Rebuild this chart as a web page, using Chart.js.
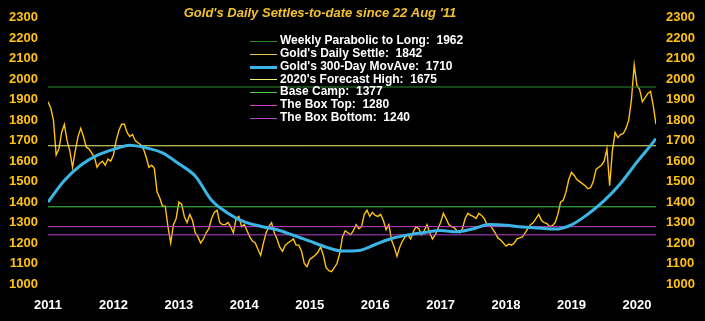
<!DOCTYPE html>
<html>
<head>
<meta charset="utf-8">
<script src="https://cdn.jsdelivr.net/npm/chart.js@4.4.0/dist/chart.umd.min.js"></script>
<style>
  html, body { margin: 0; padding: 0; background: #000; }
</style>
</head>
<body>
<canvas id="goldChart" width="705" height="321"></canvas>
<script>
// x values are years counted from the first settle (22 Aug 2011)
const startYear = 2011;
const yearTicks = [0, 1, 2, 3, 4, 5, 6, 7, 8, 9];
const priceTicks = [1000, 1100, 1200, 1300, 1400, 1500, 1600, 1700, 1800, 1900, 2000, 2100, 2200, 2300];

// settles, one value every half month
const settleStep = 1 / 24;
const goldSettles = [
  1890, 1860, 1800, 1630, 1660, 1740, 1780, 1700, 1650, 1570, 1650, 1720,
  1760, 1720, 1670, 1660, 1640, 1620, 1570, 1590, 1600, 1580, 1610, 1600,
  1630, 1700, 1750, 1780, 1780, 1740, 1720, 1730, 1700, 1690, 1680, 1660,
  1620, 1570, 1580, 1565, 1450, 1420, 1380, 1380, 1280, 1200, 1290, 1320,
  1400, 1390, 1330, 1300, 1340, 1310, 1250, 1230, 1200, 1220, 1250, 1270,
  1320, 1350, 1360, 1300, 1290, 1290, 1300, 1280, 1250, 1320, 1330, 1280,
  1290, 1260, 1230, 1210, 1200, 1170, 1140, 1200, 1250, 1280, 1300, 1250,
  1220, 1180, 1160, 1190, 1200, 1210, 1220, 1190, 1190, 1160, 1100, 1085,
  1120, 1130, 1140, 1155, 1180, 1140, 1080, 1065, 1060, 1080, 1100, 1150,
  1230, 1260, 1250, 1240, 1260, 1290, 1270, 1280, 1340, 1360, 1330, 1350,
  1335, 1330, 1340, 1310, 1265, 1290, 1215, 1180, 1135, 1180, 1210, 1230,
  1240, 1220, 1255, 1280, 1270, 1240, 1260, 1290, 1250, 1220, 1240, 1270,
  1300, 1345, 1320, 1290, 1280, 1275, 1260, 1250, 1270, 1320, 1345, 1335,
  1330, 1320, 1345, 1335, 1320, 1290, 1290, 1270, 1250, 1225, 1215, 1200,
  1185, 1195, 1190, 1200, 1220, 1225, 1230, 1250, 1270, 1290, 1300, 1320,
  1340, 1310, 1300, 1295, 1280, 1285, 1300, 1340, 1400, 1410, 1450, 1510,
  1545, 1530, 1510, 1500, 1490, 1480, 1465, 1470, 1500, 1560, 1570, 1580,
  1600, 1660, 1480, 1650, 1740, 1715, 1730, 1735, 1760, 1800, 1900, 2070,
  1970, 1950, 1890, 1910, 1930, 1940, 1870, 1780
];

// 300-day moving average
const maTimes = [0, 0.25, 0.5, 0.75, 1, 1.25, 1.5, 1.75, 2, 2.25, 2.5, 2.75, 3, 3.25, 3.5, 3.75,
  4, 4.25, 4.5, 4.75, 5, 5.25, 5.5, 5.75, 6, 6.25, 6.5, 6.75, 7, 7.25, 7.5, 7.75,
  8, 8.25, 8.5, 8.75, 9, 9.25, 9.29];
const maValues = [1400, 1505, 1580, 1628, 1657, 1678, 1665, 1640, 1587, 1527, 1409, 1346, 1303, 1282, 1265, 1238,
  1209, 1180, 1161, 1164, 1193, 1222, 1240, 1252, 1261, 1255, 1270, 1290, 1287, 1278, 1273, 1268,
  1289, 1341, 1407, 1491, 1595, 1693, 1710];

// horizontal levels
const parabolicLevel = 1962;
const lastSettle = 1842;
const lastMovAve = 1710;
const forecastHigh = 1675;
const baseCamp = 1377;
const boxTop = 1280;
const boxBottom = 1240;

const xMax = (goldSettles.length - 1) * settleStep;
const flat = v => [{ x: 0, y: v }, { x: xMax, y: v }];

const gold = '#FFC20E';
const tickFont = { family: '"Liberation Sans", Arial, sans-serif', size: 13, weight: 'bold' };

const legendRows = [
  { text: 'Weekly Parabolic to Long:  ' + parabolicLevel, color: '#2E8B2E', width: 1 },
  { text: "Gold's Daily Settle:  " + lastSettle, color: '#E8C050', width: 1 },
  { text: "Gold's 300-Day MovAve:  " + lastMovAve, color: '#3BB4E6', width: 3 },
  { text: "2020's Forecast High:  " + forecastHigh, color: '#F2F27A', width: 1 },
  { text: 'Base Camp:  ' + baseCamp, color: '#44CC44', width: 1 },
  { text: 'The Box Top:  ' + boxTop, color: '#CC40CC', width: 1 },
  { text: 'The Box Bottom:  ' + boxBottom, color: '#B844CC', width: 1 }
];

const overlayText = {
  id: 'overlayText',
  afterDraw(chart) {
    const ctx = chart.ctx;
    ctx.save();
    ctx.fillStyle = '#F2C12E';
    ctx.font = 'italic bold 13px "Liberation Sans", Arial, sans-serif';
    ctx.textAlign = 'center';
    ctx.textBaseline = 'middle';
    ctx.fillText("Gold's Daily Settles-to-date since 22 Aug '11", 320, 13);

    ctx.font = 'bold 12px "Liberation Sans", Arial, sans-serif';
    ctx.textAlign = 'left';
    legendRows.forEach((row, i) => {
      const y = 41 + i * 12.75;
      ctx.strokeStyle = row.color;
      ctx.lineWidth = row.width;
      ctx.beginPath();
      ctx.moveTo(250, Math.round(y) + 0.5);
      ctx.lineTo(277, Math.round(y) + 0.5);
      ctx.stroke();
      ctx.fillStyle = '#FFFFFF';
      ctx.fillText(row.text, 280, y);
    });
    ctx.restore();
  }
};

new Chart(document.getElementById('goldChart'), {
  type: 'line',
  data: {
    datasets: [
      {
        data: maTimes.map((t, i) => ({ x: t, y: maValues[i] })),
        borderColor: '#3BB4E6', borderWidth: 3, cubicInterpolationMode: 'monotone'
      },
      { data: flat(boxTop), borderColor: '#CC40CC', borderWidth: 1 },
      { data: flat(boxBottom), borderColor: '#B844CC', borderWidth: 1 },
      { data: flat(baseCamp), borderColor: '#44CC44', borderWidth: 1 },
      { data: flat(forecastHigh), borderColor: '#F2F27A', borderWidth: 1 },
      { data: flat(parabolicLevel), borderColor: '#2E8B2E', borderWidth: 1 },
      {
        data: goldSettles.map((v, i) => ({ x: i * settleStep, y: v })),
        borderColor: gold, borderWidth: 1.4
      }
    ]
  },
  options: {
    responsive: false,
    animation: false,
    parsing: false,
    elements: { point: { radius: 0 }, line: { tension: 0 } },
    layout: { padding: { top: 17, right: 0, bottom: 0, left: 0 } },
    plugins: { legend: { display: false }, tooltip: { enabled: false } },
    scales: {
      x: {
        type: 'linear',
        min: 0,
        max: xMax,
        grid: { display: false, drawTicks: false },
        border: { display: false },
        afterBuildTicks: scale => { scale.ticks = yearTicks.map(v => ({ value: v })); },
        afterFit: scale => { scale.height = 37; },
        ticks: {
          color: '#FFFFFF', font: tickFont, padding: 14, maxRotation: 0, autoSkip: false,
          callback: v => String(startYear + v)
        }
      },
      y: {
        position: 'left',
        min: 1000,
        max: 2300,
        grid: { display: false, drawTicks: false },
        border: { display: false },
        afterBuildTicks: scale => { scale.ticks = priceTicks.map(v => ({ value: v })); },
        afterFit: scale => { scale.width = 48; },
        ticks: { color: gold, font: tickFont, padding: 10, callback: v => String(v) }
      },
      y2: {
        position: 'right',
        min: 1000,
        max: 2300,
        grid: { display: false, drawTicks: false },
        border: { display: false },
        afterBuildTicks: scale => { scale.ticks = priceTicks.map(v => ({ value: v })); },
        afterFit: scale => { scale.width = 49; },
        ticks: { color: gold, font: tickFont, padding: 10, callback: v => String(v) }
      }
    }
  },
  plugins: [overlayText]
});
</script>
</body>
</html>
